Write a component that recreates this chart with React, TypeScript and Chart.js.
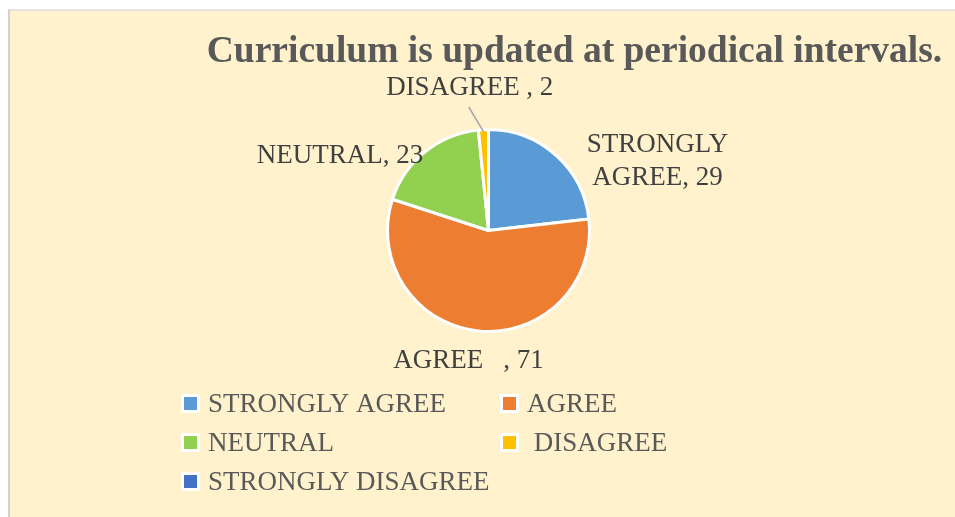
import React, { useEffect, useRef } from "react";
import { Chart, registerables } from "chart.js";

Chart.register(...registerables);

// ---------- data ----------
const titleText = "Curriculum is updated at periodical intervals.";
const categories = ["STRONGLY AGREE", "AGREE   ", "NEUTRAL", " DISAGREE ", "STRONGLY DISAGREE"];
const responses = [29, 71, 23, 2, 0];
const sliceColors = ["#5B9BD5", "#ED7D31", "#92D050", "#FFC000", "#4472C4"];

// ---------- layout / style ----------
const W = 945;
const H = 506;
const CX = 478.5;
const CY = 219.5;
const R = 101;
const SERIF = "'Liberation Serif', 'Times New Roman', serif";

// data label placement relative to pie centre (style only)
const labelLayout = [
  { dx: 169, dy: -78.5, maxWidth: 160, leader: false },
  { dx: -20, dy: 137.5, maxWidth: 400, leader: false },
  { dx: -148.5, dy: -67.5, maxWidth: 400, leader: false },
  { dx: -18.75, dy: -135.5, maxWidth: 400, leader: true },
  { dx: 0, dy: 0, maxWidth: 400, leader: false },
];

// legend grid (canvas coords)
const legendCols = [174, 493];
const legendRows = [401, 440, 479];

function wrapText(ctx: CanvasRenderingContext2D, text: string, maxWidth: number): string[] {
  const words = text.split(" ");
  const lines: string[] = [];
  let cur = "";
  for (let i = 0; i < words.length; i++) {
    const test = cur === "" ? words[i] : cur + " " + words[i];
    if (ctx.measureText(test).width > maxWidth && cur !== "") {
      lines.push(cur);
      cur = words[i];
    } else {
      cur = test;
    }
  }
  lines.push(cur);
  return lines;
}

const decorPlugin = {
  id: "decor",
  afterDraw(chart: any) {
    const ctx: CanvasRenderingContext2D = chart.ctx;
    const meta = chart.getDatasetMeta(0);
    const labels: string[] = chart.data.labels;
    const values: number[] = chart.data.datasets[0].data;
    const colors: string[] = chart.data.datasets[0].backgroundColor;

    ctx.save();
    // title
    ctx.font = `bold 37.5px ${SERIF}`;
    ctx.fillStyle = "#595959";
    ctx.textAlign = "center";
    ctx.textBaseline = "alphabetic";
    ctx.fillText(chart.options.plugins.customTitle.text, 564.5, 51);

    // data labels
    ctx.font = `27px ${SERIF}`;
    ctx.fillStyle = "#404040";
    meta.data.forEach((arc: any, i: number) => {
      if (!values[i]) return;
      const p = arc.getProps(["x", "y", "startAngle", "endAngle", "outerRadius"], true);
      const lay = labelLayout[i];
      const text = `${labels[i]}, ${values[i]}`;
      const lines = wrapText(ctx, text, lay.maxWidth);
      const lx = p.x + lay.dx;
      const ly = p.y + lay.dy;
      lines.forEach((ln, k) => {
        ctx.fillText(ln, lx, ly + k * 33);
      });
      if (lay.leader) {
        const mid = (p.startAngle + p.endAngle) / 2;
        const ex = p.x + Math.cos(mid) * (p.outerRadius - 2);
        const ey = p.y + Math.sin(mid) * (p.outerRadius - 2);
        ctx.strokeStyle = "#A6A6A6";
        ctx.lineWidth = 1.5;
        ctx.beginPath();
        ctx.moveTo(ex, ey);
        ctx.lineTo(lx - 1, ly + 12);
        ctx.stroke();
      }
    });

    // legend
    ctx.textAlign = "left";
    labels.forEach((lab, i) => {
      const col = i % 2;
      const row = Math.floor(i / 2);
      const x = legendCols[col];
      const base = legendRows[row];
      const top = base - 15;
      ctx.fillStyle = "#FFFFFF";
      ctx.fillRect(x - 3, top - 3, 19, 19);
      ctx.fillStyle = colors[i];
      ctx.fillRect(x, top, 13, 13);
      ctx.fillStyle = "#595959";
      ctx.fillText(lab, x + 24, base);
    });
    ctx.restore();
  },
};

export default function App() {
  const ref = useRef<HTMLCanvasElement | null>(null);

  useEffect(() => {
    if (!ref.current) return;
    const chart = new Chart(ref.current, {
      type: "pie",
      data: {
        labels: categories,
        datasets: [
          {
            data: responses,
            backgroundColor: sliceColors,
            borderColor: "#FFFFFF",
            borderWidth: 3,
            hoverOffset: 0,
          },
        ],
      },
      options: {
        responsive: false,
        animation: false,
        devicePixelRatio: 1,
        radius: R,
        layout: {
          padding: {
            left: CX - R,
            right: W - (CX + R),
            top: CY - R,
            bottom: H - (CY + R),
          },
        },
        plugins: {
          legend: { display: false },
          tooltip: { enabled: false },
          title: { display: false },
          customTitle: { text: titleText },
        } as any,
      } as any,
      plugins: [decorPlugin],
    });
    return () => chart.destroy();
  }, []);

  return (
    <div
      style={{
        position: "absolute",
        left: 8,
        top: 9,
        width: 947,
        height: 508,
        boxSizing: "border-box",
        borderLeft: "2px solid #D4D0CB",
        borderTop: "2px solid #E3E3E3",
        background: "#FFF2CC",
      }}
    >
      <canvas ref={ref} width={W} height={H} style={{ display: "block", width: W, height: H }} />
    </div>
  );
}
